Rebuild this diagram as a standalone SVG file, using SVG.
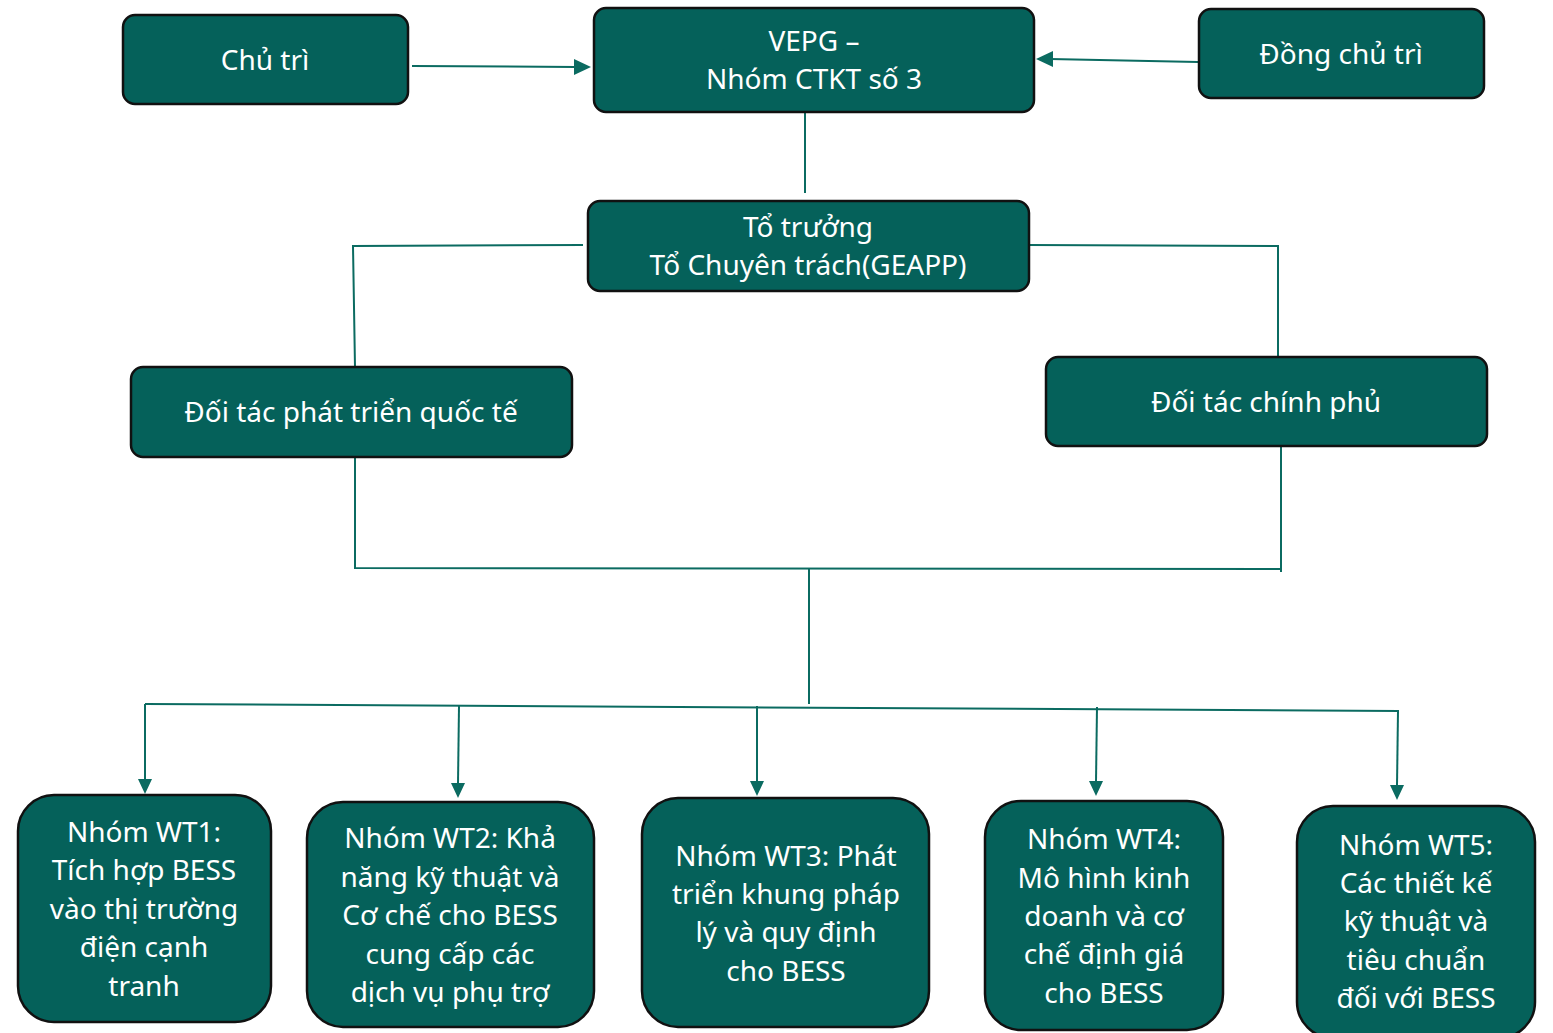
<svg xmlns="http://www.w3.org/2000/svg" width="1553" height="1033" viewBox="0 0 1553 1033">
<defs>
<style>
.box{fill:#05615a;stroke:#111;stroke-width:2.5}
.t{fill:#fff;font-family:"Noto Sans","Open Sans",sans-serif;font-size:28px;text-anchor:middle}
.c{fill:none;stroke:#0b6b61;stroke-width:2}
.h{fill:#0b6b61}
</style>
</defs>
<rect width="1553" height="1033" fill="#fff"/>
<g id="connectors">
<line class="c" x1="412" y1="66" x2="576" y2="67"/>
<path class="h" d="M574,59 L591,67 L574,75 Z"/>
<line class="c" x1="1198" y1="62" x2="1050" y2="59"/>
<path class="h" d="M1053,51 L1036,59 L1053,67 Z"/>
<line class="c" x1="805" y1="113" x2="805" y2="193"/>
<polyline class="c" points="583,245 353,246 355,367"/>
<polyline class="c" points="1029,245 1278,246 1278,357"/>
<polyline class="c" points="355,457 355,568 1281,569"/>
<line class="c" x1="1281" y1="446" x2="1281" y2="572"/>
<line class="c" x1="809" y1="568" x2="809" y2="704"/>
<line class="c" x1="145" y1="704" x2="1399" y2="711"/>
<line class="c" x1="145" y1="704" x2="145" y2="780"/>
<path class="h" d="M138,779 L145,794 L152,779 Z"/>
<line class="c" x1="459" y1="706" x2="458" y2="784"/>
<path class="h" d="M451,783 L458,798 L465,783 Z"/>
<line class="c" x1="757" y1="706" x2="757" y2="782"/>
<path class="h" d="M750,781 L757,796 L764,781 Z"/>
<line class="c" x1="1097" y1="707" x2="1096" y2="782"/>
<path class="h" d="M1089,781 L1096,796 L1103,781 Z"/>
<line class="c" x1="1398" y1="711" x2="1397" y2="786"/>
<path class="h" d="M1390,785 L1397,800 L1404,785 Z"/>
</g>
<g id="chutri"><rect class="box" x="123" y="15" width="285" height="89" rx="12"/><text class="t" x="265" y="70">Chủ trì</text></g>
<g id="vepg"><rect class="box" x="594" y="8" width="440" height="104" rx="12"/><text class="t" x="814" y="51">VEPG –</text><text class="t" x="814" y="89">Nhóm CTKT số 3</text></g>
<g id="dongchutri"><rect class="box" x="1199" y="9" width="285" height="89" rx="12"/><text class="t" x="1341" y="64">Đồng chủ trì</text></g>
<g id="totruong"><rect class="box" x="588" y="201" width="441" height="90" rx="12"/><text class="t" x="808" y="237">Tổ trưởng</text><text class="t" x="808" y="275">Tổ Chuyên trách(GEAPP)</text></g>
<g id="doitacqt"><rect class="box" x="131" y="367" width="441" height="90" rx="12"/><text class="t" x="351" y="422">Đối tác phát triển quốc tế</text></g>
<g id="doitaccp"><rect class="box" x="1046" y="357" width="441" height="89" rx="12"/><text class="t" x="1266" y="412">Đối tác chính phủ</text></g>
<g id="wt1"><rect class="box" x="18" y="795" width="253" height="227" rx="36"/>
<text class="t" x="144" y="842">Nhóm WT1:</text><text class="t" x="144" y="880">Tích hợp BESS</text><text class="t" x="144" y="919">vào thị trường</text><text class="t" x="144" y="957">điện cạnh</text><text class="t" x="144" y="996">tranh</text></g>
<g id="wt2"><rect class="box" x="307" y="802" width="287" height="225" rx="36"/>
<text class="t" x="450" y="848">Nhóm WT2: Khả</text><text class="t" x="450" y="887">năng kỹ thuật và</text><text class="t" x="450" y="925">Cơ chế cho BESS</text><text class="t" x="450" y="964">cung cấp các</text><text class="t" x="450" y="1002">dịch vụ phụ trợ</text></g>
<g id="wt3"><rect class="box" x="642" y="798" width="287" height="229" rx="36"/>
<text class="t" x="786" y="866">Nhóm WT3: Phát</text><text class="t" x="786" y="904">triển khung pháp</text><text class="t" x="786" y="942">lý và quy định</text><text class="t" x="786" y="981">cho BESS</text></g>
<g id="wt4"><rect class="box" x="985" y="801" width="238" height="229" rx="36"/>
<text class="t" x="1104" y="849">Nhóm WT4:</text><text class="t" x="1104" y="888">Mô hình kinh</text><text class="t" x="1104" y="926">doanh và cơ</text><text class="t" x="1104" y="964">chế định giá</text><text class="t" x="1104" y="1003">cho BESS</text></g>
<g id="wt5"><rect class="box" x="1297" y="806" width="238" height="232" rx="36"/>
<text class="t" x="1416" y="855">Nhóm WT5:</text><text class="t" x="1416" y="893">Các thiết kế</text><text class="t" x="1416" y="931">kỹ thuật và</text><text class="t" x="1416" y="970">tiêu chuẩn</text><text class="t" x="1416" y="1008">đối với BESS</text></g>
</svg>
